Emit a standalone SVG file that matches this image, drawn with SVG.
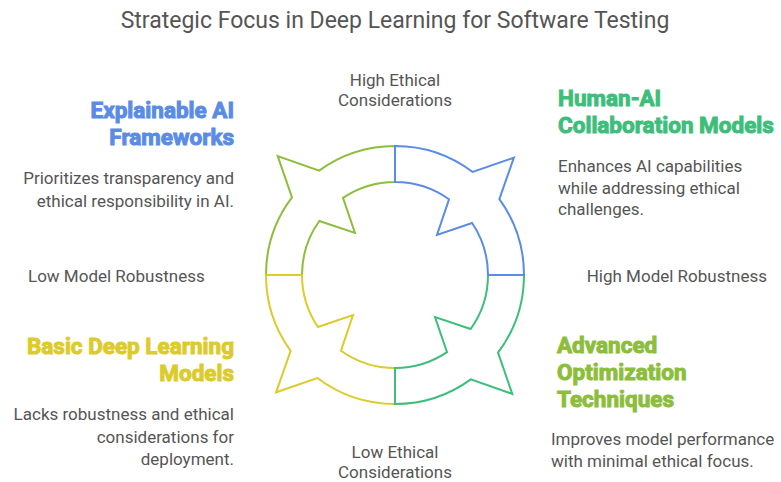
<svg xmlns="http://www.w3.org/2000/svg" xmlns:xlink="http://www.w3.org/1999/xlink" width="781" height="482" viewBox="0 0 781 482">
  <style>
    .title { font-family: Roboto, "Liberation Sans", sans-serif; font-size: 23px; fill: #555555; }
    .axis { font-family: Roboto, "Liberation Sans", sans-serif; font-size: 17px; fill: #555555; }
    .body { font-family: Roboto, "Liberation Sans", sans-serif; font-size: 17px; fill: #555555; }
    .head { font-family: Roboto, "Liberation Sans", sans-serif; font-size: 22.5px; font-weight: bold; }
    .band { fill: none; stroke-width: 2; stroke-linejoin: miter; }
    .blue { fill: #5A8CE6; stroke: #5A8CE6; }
    .teal { fill: #3DBE7A; stroke: #3DBE7A; }
    .yellow { fill: #DCCB2A; stroke: #DCCB2A; }
    .olive { fill: #8CBE3C; stroke: #8CBE3C; }
  </style>
  <defs>
    <!-- one quarter band of the ring (top-right), drawn around the origin -->
    <path id="band" d="M 0,-129 A 129 129 0 0 1 77.63,-103.02 L 118.9,-117.3 L 104.36,-75.83 A 129 129 0 0 1 129,0 L 93,0 A 93 93 0 0 0 77.10,-52.00 L 42.0,-40.0 L 54.0,-75.71 A 93 93 0 0 0 0,-93 Z"/>
  </defs>

  <rect width="781" height="482" fill="#ffffff"/>

  <text class="title" x="395" y="28" text-anchor="middle">Strategic Focus in Deep Learning for Software Testing</text>

  <!-- ring quadrants, drawn so shared dividers take the later colour -->
  <g id="ring" transform="translate(395,275)">
    <g id="quadrant-top-left"><use xlink:href="#band" class="band olive" style="fill:none" transform="rotate(270)"/></g>
    <g id="quadrant-bottom-left"><use xlink:href="#band" class="band yellow" style="fill:none" transform="rotate(180)"/></g>
    <g id="quadrant-bottom-right"><use xlink:href="#band" class="band teal" style="fill:none" transform="rotate(90)"/></g>
    <g id="quadrant-top-right"><use xlink:href="#band" class="band blue" style="fill:none"/></g>
  </g>

  <!-- axis labels -->
  <g id="axis-labels">
    <text class="axis" x="395" y="86" text-anchor="middle">High Ethical</text>
    <text class="axis" x="395" y="106" text-anchor="middle">Considerations</text>
    <text class="axis" x="395" y="458" text-anchor="middle">Low Ethical</text>
    <text class="axis" x="395" y="478" text-anchor="middle">Considerations</text>
    <text class="axis" x="28" y="282">Low Model Robustness</text>
    <text class="axis" x="767" y="282" text-anchor="end">High Model Robustness</text>
  </g>

  <g id="explainable-ai">
    <text class="head blue" x="234" y="118" text-anchor="end">Explainable AI</text>
    <text class="head blue" x="234" y="145" text-anchor="end">Frameworks</text>
    <text class="body" x="234" y="184" text-anchor="end">Prioritizes transparency and</text>
    <text class="body" x="234" y="207" text-anchor="end">ethical responsibility in AI.</text>
  </g>

  <g id="human-ai">
    <text class="head teal" x="558" y="106">Human-AI</text>
    <text class="head teal" x="558" y="133">Collaboration Models</text>
    <text class="body" x="558" y="172">Enhances AI capabilities</text>
    <text class="body" x="558" y="194">while addressing ethical</text>
    <text class="body" x="558" y="215">challenges.</text>
  </g>

  <g id="basic-deep-learning">
    <text class="head yellow" x="234" y="354" text-anchor="end">Basic Deep Learning</text>
    <text class="head yellow" x="234" y="381" text-anchor="end">Models</text>
    <text class="body" x="234" y="420" text-anchor="end">Lacks robustness and ethical</text>
    <text class="body" x="234" y="443" text-anchor="end">considerations for</text>
    <text class="body" x="234" y="465" text-anchor="end">deployment.</text>
  </g>

  <g id="advanced-optimization">
    <text class="head olive" x="557" y="353">Advanced</text>
    <text class="head olive" x="557" y="380">Optimization</text>
    <text class="head olive" x="557" y="407">Techniques</text>
    <text class="body" x="551" y="445">Improves model performance</text>
    <text class="body" x="551" y="467">with minimal ethical focus.</text>
  </g>
</svg>
